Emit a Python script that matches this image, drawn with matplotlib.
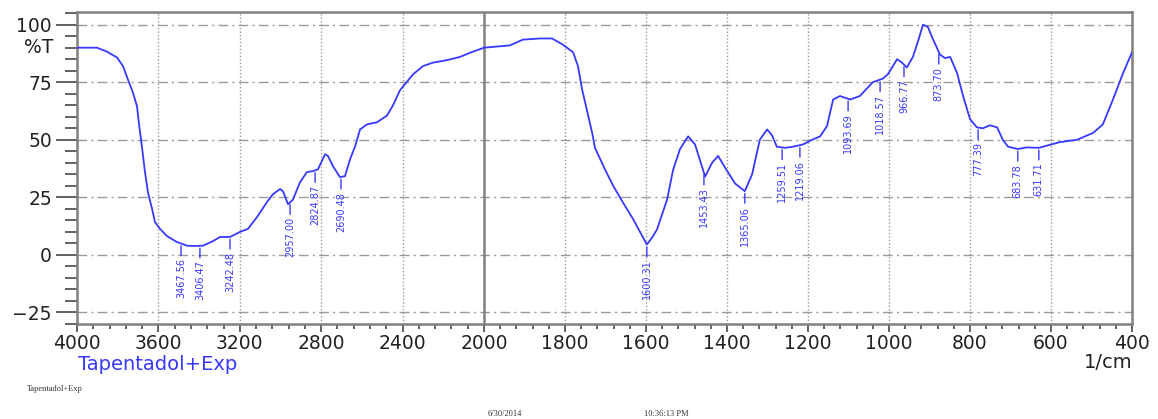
import numpy as np
import matplotlib
matplotlib.use('Agg')
import matplotlib.pyplot as plt
from matplotlib.ticker import FixedLocator, MultipleLocator
import matplotlib.transforms as mtransforms

# IR spectrum
wavenumber = [4000, 3902, 3853, 3803, 3774, 3749, 3725, 3705, 3695, 3681,
              3666, 3651, 3631, 3617, 3592, 3558, 3509, 3459, 3420, 3381,
              3332, 3297, 3248, 3199, 3160, 3115, 3066, 3037, 3002, 2988,
              2963, 2939, 2904, 2870, 2840, 2816, 2781, 2767, 2742, 2708,
              2683, 2658, 2634, 2609, 2575, 2526, 2477, 2447, 2413, 2378,
              2349, 2300, 2251, 2182, 2118, 2054, 2000,
              1936, 1904, 1862, 1832, 1805, 1780, 1768, 1758, 1746, 1733,
              1726, 1701, 1681, 1656, 1632, 1615, 1598, 1585, 1573, 1548,
              1533, 1516, 1496, 1479, 1454, 1437, 1422, 1405, 1380, 1356,
              1338, 1319, 1301, 1289, 1277, 1257, 1237, 1212, 1190, 1170,
              1153, 1138, 1121, 1096, 1072, 1040, 1015, 1003, 980, 968,
              956, 941, 928, 916, 904, 891, 874, 862, 849, 832,
              817, 800, 783, 768, 751, 733, 719, 706, 682, 659,
              630, 578, 536, 496, 472, 447, 422, 400]
transmittance = [90.0, 90.0, 88.3, 85.7, 82.0, 76.0, 70.5, 64.5, 56.7, 47.0,
                 36.0, 27.0, 20.0, 14.3, 11.3, 8.2, 5.6, 4.0, 3.9, 4.0,
                 6.0, 7.8, 7.8, 10.0, 11.3, 16.5, 23.0, 26.4, 28.6, 27.7,
                 22.0, 24.0, 31.6, 36.0, 36.4, 37.2, 43.7, 43.0, 38.5, 33.8,
                 34.2, 41.6, 47.0, 54.5, 56.7, 57.6, 60.5, 65.0, 71.5, 75.3,
                 78.4, 82.0, 83.5, 84.6, 86.0, 88.3, 90.0,
                 91.0, 93.5, 94.0, 94.0, 91.3, 88.0, 82.0, 72.0, 63.0, 53.0,
                 46.5, 37.0, 30.0, 22.5, 15.6, 10.0, 4.5, 7.5, 11.0, 24.0,
                 37.0, 46.0, 51.5, 48.0, 34.0, 40.0, 43.0, 38.0, 31.0, 27.7,
                 35.0, 50.0, 54.5, 52.0, 47.0, 46.5, 47.0, 48.0, 50.0, 51.5,
                 56.0, 67.5, 69.0, 67.5, 69.0, 75.0, 76.6, 78.4, 85.0, 83.5,
                 81.4, 86.0, 93.0, 100.0, 99.0, 93.5, 87.0, 85.5, 86.0, 79.0,
                 69.0, 59.0, 55.4, 55.0, 56.3, 55.4, 50.0, 47.0, 46.0, 46.7,
                 46.5, 49.0, 50.0, 53.0, 56.7, 67.5, 79.0, 88.0]

# peak marks: where they sit on the plot and the text printed next to them
peak_pos = [3489, 3396, 3248, 2953, 2830, 2703, 1598, 1457, 1356, 1264,
            1220, 1101, 1022, 963, 877, 780, 682, 630]
peak_text = ['3467.56', '3406.47', '3242.48', '2957.00', '2824.87', '2690.48',
             '1600.31', '1453.43', '1365.06', '1259.51', '1219.06', '1093.69',
             '1018.57', '966.77', '873.70', '777.39', '683.78', '631.71']

x_major = [4000, 3600, 3200, 2800, 2400, 2000, 1800, 1600, 1400, 1200,
           1000, 800, 600, 400]

BLUE = '#3838ff'
GREY = '#808080'
K = 0.5025  # the 4000-2000 half is drawn compressed


def fwd(x):
    x = np.asarray(x, dtype=float)
    return np.where(x > 2000, 2000 + (x - 2000) * K, x)


def inv(t):
    t = np.asarray(t, dtype=float)
    return np.where(t > 2000, 2000 + (t - 2000) / K, t)


fig = plt.figure(figsize=(11.58, 4.19), dpi=100)
ax = fig.add_axes([77 / 1158, 1 - 324 / 419, (1132 - 77) / 1158, (324 - 12) / 419])
ax.set_xscale('function', functions=(fwd, inv))
ax.set_xlim(4000, 400)
ax.set_ylim(-30, 105.5)

ax.xaxis.set_major_locator(FixedLocator(x_major))
minor = list(np.arange(4000, 2000, -80)) + list(np.arange(2000, 399, -40))
ax.xaxis.set_minor_locator(FixedLocator(minor))
ax.yaxis.set_major_locator(FixedLocator([-25, 0, 25, 50, 75, 100]))
ax.yaxis.set_minor_locator(MultipleLocator(5))

ax.tick_params(axis='both', which='both', direction='out', colors='#555555',
               labelcolor='#222222', width=1.3)
ax.tick_params(axis='y', which='major', length=15, pad=3, labelsize=13.5)
ax.tick_params(axis='y', which='minor', length=9)
ax.tick_params(axis='x', which='major', length=5.5, pad=2, labelsize=13.5)
ax.tick_params(axis='x', which='minor', length=3.5)
ax.tick_params(top=False, right=False)
for s in ax.spines.values():
    s.set_color(GREY)
    s.set_linewidth(1.8)

for v in x_major[1:-1]:
    if v != 2000:
        ax.axvline(v, color='#9a9a9a', lw=1.0, ls=(0, (1, 1.5)), zorder=0)
for v in [-25, 0, 25, 50, 75, 100]:
    ax.axhline(v, color='#9a9a9a', lw=1.0, ls=(0, (7, 3, 1.5, 3)), zorder=0)
ax.axvline(2000, color=GREY, lw=1.8, zorder=1)

ax.plot(wavenumber, transmittance, color=BLUE, lw=1.3, zorder=3)

wn_asc = np.array(wavenumber[::-1], dtype=float)
t_asc = np.array(transmittance[::-1], dtype=float)
for p, txt in zip(peak_pos, peak_text):
    yc = np.interp(p, wn_asc, t_asc) - 1
    ax.annotate(txt, xy=(p, yc), xytext=(0, -9), textcoords='offset points',
                rotation=90, ha='center', va='top', fontsize=7, color=BLUE,
                arrowprops=dict(arrowstyle='-', color=BLUE, lw=1,
                                shrinkA=0, shrinkB=0))

trans = mtransforms.blended_transform_factory(ax.transAxes, ax.transData)
ax.text(-0.022, 90, '%T', transform=trans, ha='right', va='center',
        fontsize=13.5, color='#222222')

fig.text(78 / 1158, 1 - 364 / 419, 'Tapentadol+Exp', color=BLUE, fontsize=14,
         ha='left', va='center')
fig.text(1132 / 1158, 1 - 362 / 419, '1/cm', color='#222222', fontsize=14,
         ha='right', va='center')
fig.text(27 / 1158, 1 - 389 / 419, 'Tapentadol+Exp', color='#333333',
         fontsize=6, ha='left', va='center', family='Liberation Serif')
fig.text(505 / 1158, 1 - 414 / 419, '6/30/2014', color='#333333', fontsize=6,
         ha='center', va='center', family='Liberation Serif')
fig.text(666 / 1158, 1 - 414 / 419, '10:36:13 PM', color='#333333',
         fontsize=6, ha='center', va='center', family='Liberation Serif')

fig.savefig('out.png', dpi=100)
